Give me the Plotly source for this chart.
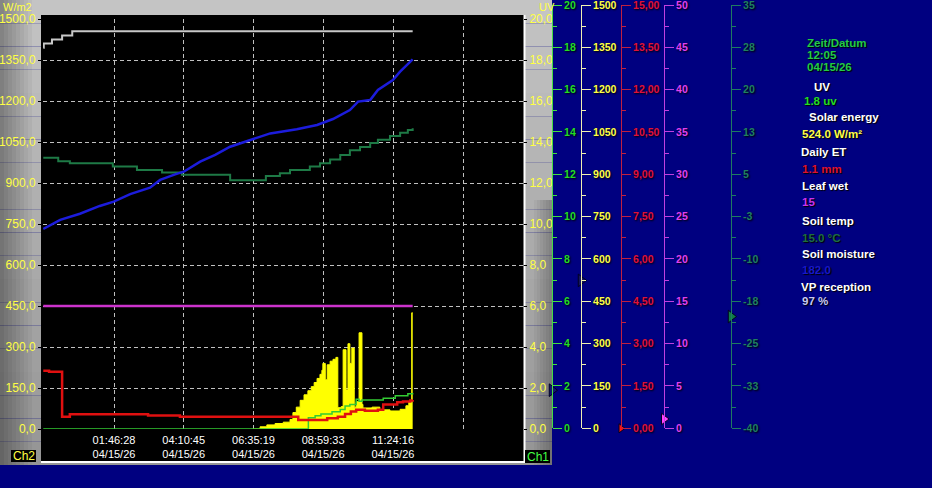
import plotly.graph_objects as go

W, H = 932, 488


def px(x):
    return x / W


def py(y):
    return 1 - y / H


def stamp(t):
    # readings before midnight belong to the previous day
    return ("2026-04-14 " if t >= "23" else "2026-04-15 ") + t


# --- data ----------------------------------------------------------------
X_RANGE = ["2026-04-14 23:19:26", "2026-04-15 15:53:30"]
X_TICKS = ["01:46:28", "04:10:45", "06:35:19", "08:59:33", "11:24:16", "13:49:14"]
X_TICK_DATE = "04/15/26"

solar_t = ["06:34", "06:49", "07:03", "07:20", "07:37", "07:51", "07:57", "08:04", "08:12",
           "08:20", "08:28", "08:35", "08:41", "08:47", "08:53", "08:57", "08:59", "09:04",
           "09:08", "09:14", "09:20", "09:26", "09:30", "09:37", "09:41", "09:47", "09:51",
           "09:55", "09:59", "10:04", "10:08", "10:14", "10:20", "10:22", "10:41", "10:57",
           "11:18", "11:39", "11:51", "11:57", "12:03", "12:05"]
solar_wm2 = [0, 8, 15, 20, 25, 35, 60, 80, 105,
             125, 140, 155, 170, 185, 200, 215, 240, 180,
             235, 248, 255, 262, 78, 82, 290, 143, 312,
             240, 296, 80, 100, 352, 90, 77, 80, 70,
             66, 72, 85, 100, 425, 425]

uv_t = ["23:20", "08:29", "08:43", "08:55", "09:18", "09:35", "09:45", "09:55", "10:08",
        "10:14", "10:20", "11:04", "11:29", "11:55", "12:05"]
uv_index = [0, 0.55, 0.65, 0.73, 0.84, 0.95, 1.12, 1.2, 1.45,
            1.35, 1.42, 1.5, 1.62, 1.72, 1.76]

et_t = ["23:20", "23:32", "23:59", "00:15", "02:57", "04:03", "08:08", "09:08", "09:30",
        "09:45", "09:57", "10:08", "10:26", "10:53", "11:04", "11:33", "11:45", "12:00", "12:05"]
et_mm = [2.13, 2.09, 0.45, 0.54, 0.49, 0.45, 0.33, 0.39, 0.45,
         0.55, 0.64, 0.7, 0.67, 0.7, 0.9, 0.98, 1.01, 1.04, 1.06]

leaf_t = ["23:20", "12:05"]
leaf_wet = [15, 15]

soil_temp_t = ["23:20", "23:51", "00:15", "01:44", "02:34", "03:26", "04:07", "05:47", "07:01",
               "07:30", "07:51", "08:32", "08:53", "09:14", "09:35", "09:55", "10:16", "10:37",
               "10:53", "11:18", "11:39", "11:55", "12:05"]
soil_temp_c = [9.6, 9.0, 8.6, 8.0, 7.4, 6.9, 6.5, 5.5, 6.3,
               6.8, 7.4, 8.0, 8.6, 9.3, 10.1, 11.0, 11.6, 12.3,
               12.9, 13.6, 14.2, 14.7, 15.0]

moist_t = ["23:20", "23:55", "00:36", "01:17", "01:46", "02:20", "03:01", "03:22", "03:53",
           "04:11", "04:45", "05:16", "05:47", "06:18", "06:36", "07:10", "08:05", "08:47",
           "09:20", "09:55", "10:12", "10:37", "10:53", "11:24", "11:39", "11:53", "12:05"]
moist_cb = [97.6, 102, 105, 108.8, 110.9, 114.6, 117.7, 121.5, 124.2,
            125.5, 130.4, 133.7, 137.7, 140.1, 141.3, 144.2, 146.2, 148.3,
            151.2, 155.6, 159.7, 160.5, 165.4, 170.2, 174.3, 177.6, 180.3]

rx_t = ["23:20", "23:21", "23:38", "23:59", "00:20", "12:05"]
rx_pct = [93, 94, 95, 96, 97, 97]

SOLAR_TICKS = [0, 150, 300, 450, 600, 750, 900, 1050, 1200, 1350, 1500]
UV_TICKS = [0, 2, 4, 6, 8, 10, 12, 14, 16, 18, 20]
ET_TICKS = [0, 1.5, 3, 4.5, 6, 7.5, 9, 10.5, 12, 13.5, 15]
LEAF_TICKS = [0, 5, 10, 15, 20, 25, 30, 35, 40, 45, 50]
TEMP_TICKS = [-40, -32.5, -25, -17.5, -10, -2.5, 5, 12.5, 20, 27.5, 35]
TEMP_LABELS = ["-40", "-33", "-25", "-18", "-10", "-3", "5", "13", "20", "28", "35"]

# current-level pointers on the scale bars (uv, solar, et, leaf, soil temp)
pointer_levels = [1.8, 524, 0.0, 1.1, -20.2]

header = ["Zeit/Datum", "12:05", "04/15/26"]
readout_labels = ["UV", "Solar energy", "Daily ET", "Leaf wet", "Soil temp", "Soil moisture", "VP reception"]
readout_values = ["1.8 uv", "524.0 W/m²", "1.1 mm", "15", "15.0 °C", "182.0", "97 %"]

# --- styling ---------------------------------------------------------------
NAVY = "#000080"
YELLOW = "#ffff00"
TICK_YELLOW = "#ffff44"
UV_GREEN = "#33cc33"
RED = "#e01010"
MAGENTA = "#cc33cc"
SOIL_GREEN = "#1e7a46"
BLUE = "#1c1cdc"
SILVER = "#c8c8c8"
GRID = "#c0c0c0"
FONT = "Liberation Sans"

fig = go.Figure()

fig.add_trace(go.Scatter(x=[stamp(t) for t in solar_t], y=solar_wm2, mode="lines",
                         line=dict(color=YELLOW, width=1, shape="hv"), fill="tozeroy",
                         fillcolor=YELLOW, yaxis="y"))
fig.add_trace(go.Scatter(x=[stamp(t) for t in uv_t], y=uv_index, mode="lines",
                         line=dict(color=UV_GREEN, width=1.5, shape="hv"), yaxis="y2"))
fig.add_trace(go.Scatter(x=[stamp(t) for t in et_t], y=et_mm, mode="lines",
                         line=dict(color=RED, width=2.5, shape="hv"), yaxis="y3"))
fig.add_trace(go.Scatter(x=[stamp(t) for t in leaf_t], y=leaf_wet, mode="lines",
                         line=dict(color=MAGENTA, width=2.5), yaxis="y4"))
fig.add_trace(go.Scatter(x=[stamp(t) for t in soil_temp_t], y=soil_temp_c, mode="lines",
                         line=dict(color=SOIL_GREEN, width=2, shape="hv"), yaxis="y5"))
fig.add_trace(go.Scatter(x=[stamp(t) for t in moist_t], y=moist_cb, mode="lines",
                         line=dict(color=BLUE, width=2.5), yaxis="y6"))
fig.add_trace(go.Scatter(x=[stamp(t) for t in rx_t], y=rx_pct, mode="lines",
                         line=dict(color=SILVER, width=2, shape="hv"), yaxis="y7"))

# scale bars to the right of the chart
SCALE_X = [552, 581, 621, 664, 731]
scale_specs = [
    (UV_TICKS, [str(v) for v in UV_TICKS], [0, 20], 1, "#44dd44", "#22dd22"),
    (SOLAR_TICKS, [str(v) for v in SOLAR_TICKS], [0, 1500], 75, "#f0f0b0", TICK_YELLOW),
    (ET_TICKS, [f"{v:.2f}".replace(".", ",") for v in ET_TICKS], [0, 15], 0.75, "#c02040", "#e0103a"),
    (LEAF_TICKS, [str(v) for v in LEAF_TICKS], [0, 50], 2.5, "#c040e0", "#e040f0"),
    (TEMP_TICKS, TEMP_LABELS, [-40, 35], 3.75, "#1f7a62", "#1f8060"),
]
pointer_colors = ["#141470", "#141460", "#ff1010", "#ff40ff", "#0f7a45"]
pointer_sizes = [11, 11, 8, 10, 11]

layout_axes = {}
for i, (vals, texts, rng, minor_step, line_col, font_col) in enumerate(scale_specs):
    name = f"yaxis{8 + i}"
    ax = dict(
        range=rng, anchor="free", position=px(SCALE_X[i]), side="right", automargin=False,
        tickmode="array", tickvals=vals, ticktext=texts, ticklabeloverflow="allow",
        showline=True, linecolor=line_col, linewidth=1,
        ticks="outside", ticklen=9, tickwidth=1, tickcolor=line_col,
        minor=dict(tick0=rng[0], dtick=minor_step, ticks="outside", ticklen=4,
                   tickcolor=line_col, showgrid=False),
        showgrid=False, zeroline=False,
        tickfont=dict(family=FONT, size=10.5, color=font_col, weight="bold",
                      shadow="1px 1px 2px #000000"),
    )
    if i == 0:
        ax["domain"] = [py(428.3), py(5)]
    else:
        ax["overlaying"] = "y8"
    layout_axes[name] = ax
    fig.add_trace(go.Scatter(x=[SCALE_X[i]], y=[pointer_levels[i]], mode="markers",
                             xaxis="x2", yaxis=f"y{8 + i}", cliponaxis=False,
                             marker=dict(symbol="triangle-right", size=pointer_sizes[i],
                                         color=pointer_colors[i],
                                         line=dict(color="#000020", width=1))))

hidden = dict(showgrid=False, zeroline=False, visible=False, overlaying="y", automargin=False)

# gray instrument frame drawn as bands
shapes = []
n_bands = 20
for k in range(n_bands):
    g = int(196 - 46 * k / (n_bands - 1))
    shapes.append(dict(type="rect", xref="paper", yref="paper", layer="below",
                       x0=px(0), x1=px(552), y0=py(465 * (k + 1) / n_bands), y1=py(465 * k / n_bands),
                       line=dict(width=0), fillcolor=f"rgb({g},{g},{g})"))
for k in range(8):
    shapes.append(dict(type="rect", xref="paper", yref="paper", layer="below",
                       x0=px(k * 4), x1=px(k * 4 + 4), y0=py(465), y1=py(0),
                       line=dict(width=0), fillcolor=f"rgba(0,0,0,{0.32 * (1 - k / 8):.3f})"))
for k in range(6):
    shapes.append(dict(type="rect", xref="paper", yref="paper", layer="below",
                       x0=px(534 + k * 3), x1=px(537 + k * 3), y0=py(465), y1=py(200),
                       line=dict(width=0), fillcolor=f"rgba(0,0,0,{0.04 * (k + 1):.3f})"))
shapes += [
    dict(type="rect", xref="paper", yref="paper", layer="below",
         x0=px(41), x1=px(524), y0=py(461), y1=py(15), line=dict(width=0), fillcolor="black"),
    dict(type="line", xref="paper", yref="paper", layer="below",
         x0=px(524.5), x1=px(524.5), y0=py(462.5), y1=py(15), line=dict(color="white", width=2)),
    dict(type="line", xref="paper", yref="paper", layer="below",
         x0=px(41), x1=px(525), y0=py(462), y1=py(462), line=dict(color="white", width=2)),
    dict(type="rect", xref="paper", yref="paper", layer="below",
         x0=px(11), x1=px(36), y0=py(462), y1=py(450), line=dict(width=0), fillcolor="black"),
    dict(type="rect", xref="paper", yref="paper", layer="below",
         x0=px(525), x1=px(550), y0=py(463), y1=py(450), line=dict(width=0), fillcolor="black"),
]


def note(text, x, y, color, size=11, bold=False, anchor="left"):
    return dict(text=text, x=px(x), y=py(y), xref="paper", yref="paper", showarrow=False,
                xanchor=anchor, yanchor="middle",
                font=dict(family=FONT, size=size, color=color,
                          weight="bold" if bold else "normal",
                          shadow="1px 1px 1px #000000" if bold else "none"))


annotations = [
    note("W/m2", 1, 7, TICK_YELLOW, 11),
    note("UV", 537, 7, TICK_YELLOW, 11),
    note("Ch2", 23.5, 456, TICK_YELLOW, 12, anchor="center"),
    note("Ch1", 537.5, 456.5, "#44ff44", 12, anchor="center"),
]
for txt, yy in zip(header, [43, 55, 67]):
    annotations.append(note(txt, 805, yy, "#22cc44", 11.5, True))
label_pos = [(812, 87), (807, 117), (799, 152), (800, 186), (800, 221), (800, 254), (799, 287)]
value_pos = [(802, 101), (800, 134), (800, 169), (800, 202), (800, 238), (800, 270), (800, 301)]
value_colors = ["#22dd22", "#ffff44", "#dd1133", "#cc33ee", "#1e6e3e", "#1818c8", "#c8c8f0"]
for txt, (lx, ly) in zip(readout_labels, label_pos):
    annotations.append(note(txt, lx, ly, "white", 11.5, True))
for txt, (vx, vy), col in zip(readout_values, value_pos, value_colors):
    annotations.append(note(txt, vx, vy, col, 11.5, True))

fig.update_layout(
    width=W, height=H, autosize=False,
    margin=dict(l=0, r=0, t=0, b=0, autoexpand=False),
    paper_bgcolor=NAVY, plot_bgcolor="rgba(0,0,0,0)",
    showlegend=False,
    xaxis=dict(domain=[px(43), px(523)], type="date", range=X_RANGE, anchor="y", automargin=False,
               tickmode="array", tickvals=[stamp(t) for t in X_TICKS],
               ticktext=[f"{t}<br>{X_TICK_DATE}" for t in X_TICKS[:-1]] + [""],
               ticks="", ticklabelstandoff=3,
               showgrid=True, gridcolor=GRID, gridwidth=1, griddash="4px,3px",
               zeroline=False, showline=False,
               tickfont=dict(family=FONT, size=11, color="white")),
    yaxis=dict(domain=[py(429), py(19)], range=[0, 1500], tickmode="array", automargin=False,
               tickvals=SOLAR_TICKS, ticktext=[f"{v:.1f}".replace(".", ",") for v in SOLAR_TICKS],
               ticks="outside", ticklen=4, tickcolor="black", showgrid=True, gridcolor=GRID,
               gridwidth=1, griddash="4px,3px", zeroline=False, showline=False,
               tickfont=dict(family=FONT, size=12, color=TICK_YELLOW)),
    yaxis2=dict(overlaying="y", side="right", anchor="x", range=[0, 20], tickmode="array",
                automargin=False,
                tickvals=UV_TICKS, ticktext=[f"{v:.1f}".replace(".", ",") for v in UV_TICKS],
                ticks="outside", ticklen=3, tickcolor="black", showgrid=False, zeroline=False,
                tickfont=dict(family=FONT, size=12, color=TICK_YELLOW)),
    yaxis3=dict(range=[0, 15], **hidden),
    yaxis4=dict(range=[0, 50], **hidden),
    yaxis5=dict(range=[-40, 35], **hidden),
    yaxis6=dict(range=[0, 200], **hidden),
    yaxis7=dict(range=[0, 100], **hidden),
    xaxis2=dict(domain=[0, 1], range=[0, W], visible=False, anchor="y8", showgrid=False,
                automargin=False),
    shapes=shapes,
    annotations=annotations,
    **layout_axes,
)

# the page is shot at exactly the figure size, so drop the default body margin
fig.write_html("out.html", config={"displayModeBar": False},
               post_script="document.body.style.margin='0';"
                           "document.body.style.overflow='hidden';")
